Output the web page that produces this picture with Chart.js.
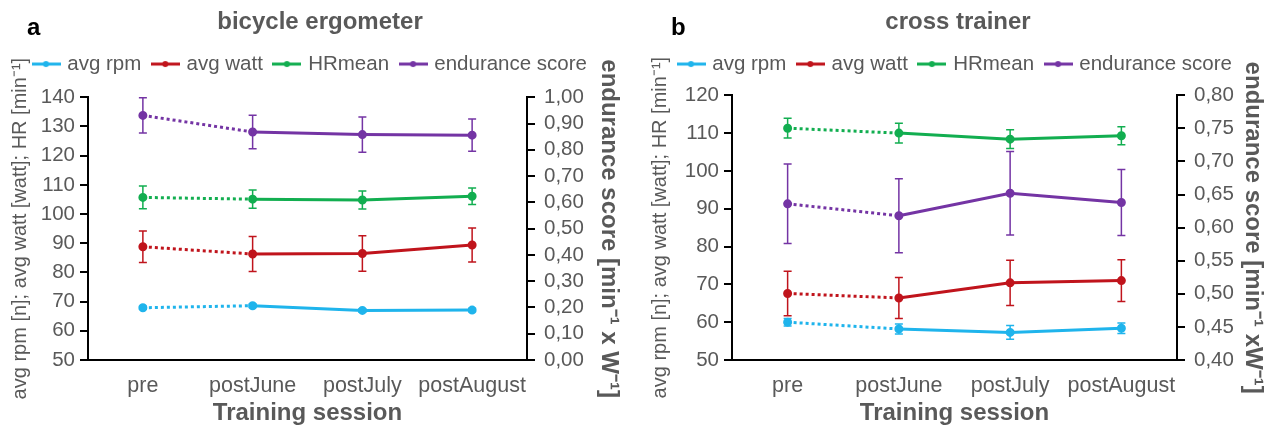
<!DOCTYPE html>
<html>
<head>
<meta charset="utf-8">
<script src="https://cdn.jsdelivr.net/npm/chart.js@4"></script>
<style>
  body { margin: 0; background: #fff; }
  #wrap { position: relative; width: 1276px; height: 431px; }
  .panel { position: absolute; top: 0; height: 431px; }
</style>
</head>
<body>
<div id="wrap">
  <div class="panel" style="left:0;width:640px"><canvas id="chartA"></canvas></div>
  <div class="panel" style="left:640px;width:636px"><canvas id="chartB"></canvas></div>
</div>
<script>
const sessions = ['pre', 'postJune', 'postJuly', 'postAugust'];
const seriesNames = ['avg rpm', 'avg watt', 'HRmean', 'endurance score'];
const seriesColors = ['#1FB4EC', '#C0141C', '#12AE50', '#7434A4'];

// a: bicycle ergometer
const bikeRpm = [67.9, 68.6, 67.0, 67.1];
const bikeRpmSd = [0.5, 0.6, 0.6, 0.6];
const bikeWatt = [88.8, 86.3, 86.5, 89.4];
const bikeWattSd = [5.4, 6.0, 6.1, 5.8];
const bikeHr = [105.7, 105.1, 104.8, 106.1];
const bikeHrSd = [3.9, 3.1, 3.1, 2.8];
const bikeScore = [0.931, 0.868, 0.858, 0.856];
const bikeScoreSd = [0.067, 0.064, 0.067, 0.061];
const bikeLeftTicks = [50, 60, 70, 80, 90, 100, 110, 120, 130, 140];
const bikeRightTicks = [0, 0.1, 0.2, 0.3, 0.4, 0.5, 0.6, 0.7, 0.8, 0.9, 1.0];

// b: cross trainer
const crossRpm = [60.0, 58.2, 57.3, 58.4];
const crossRpmSd = [1.0, 1.3, 1.8, 1.4];
const crossWatt = [67.6, 66.4, 70.4, 71.0];
const crossWattSd = [5.9, 5.4, 6.0, 5.5];
const crossHr = [111.3, 110.0, 108.4, 109.3];
const crossHrSd = [2.6, 2.6, 2.5, 2.4];
const crossScore = [0.636, 0.618, 0.652, 0.638];
const crossScoreSd = [0.060, 0.056, 0.063, 0.050];
const crossLeftTicks = [50, 60, 70, 80, 90, 100, 110, 120];
const crossRightTicks = [0.40, 0.45, 0.50, 0.55, 0.60, 0.65, 0.70, 0.75, 0.80];

const gray = '#595959';
Chart.defaults.font.family = '"Liberation Sans", Arial, sans-serif';

function legendIcon(color) {
    const c = document.createElement('canvas');
    c.width = 29;
    c.height = 8;
    const g = c.getContext('2d');
    g.strokeStyle = color;
    g.lineWidth = 3;
    g.beginPath();
    g.moveTo(0, 4);
    g.lineTo(29, 4);
    g.stroke();
    g.fillStyle = color;
    g.beginPath();
    g.arc(14.5, 4, 3, 0, Math.PI * 2);
    g.fill();
    return c;
}
const icons = seriesColors.map(legendIcon);

// whiskers drawn through the dataset's own y scale
const errorBars = {
    id: 'errorBars',
    afterDatasetsDraw(chart) {
        const ctx = chart.ctx;
        chart.data.datasets.forEach((ds, i) => {
            const meta = chart.getDatasetMeta(i);
            const scale = chart.scales[ds.yAxisID];
            ctx.save();
            ctx.strokeStyle = ds.borderColor;
            ctx.lineWidth = 1.5;
            meta.data.forEach((pt, j) => {
                const top = scale.getPixelForValue(ds.data[j] + ds.errors[j]);
                const bot = scale.getPixelForValue(ds.data[j] - ds.errors[j]);
                ctx.beginPath();
                ctx.moveTo(pt.x, top); ctx.lineTo(pt.x, bot);
                ctx.moveTo(pt.x - 4, top); ctx.lineTo(pt.x + 4, top);
                ctx.moveTo(pt.x - 4, bot); ctx.lineTo(pt.x + 4, bot);
                ctx.stroke();
            });
            ctx.restore();
        });
    }
};

// panel letter + legend nudge
const panelExtras = {
    id: 'panelExtras',
    afterLayout(chart, args, opts) {
        const lg = chart.legend;
        lg.left += opts.legendShift;
        lg.right += opts.legendShift;
        lg.top += opts.legendShiftY;
        lg.bottom += opts.legendShiftY;
    },
    afterDraw(chart, args, opts) {
        const ctx = chart.ctx;
        ctx.save();
        ctx.fillStyle = '#000';
        ctx.font = 'bold 24px "Liberation Sans", Arial, sans-serif';
        ctx.textBaseline = 'middle';
        ctx.fillText(opts.letter, opts.letterX, 28);
        ctx.restore();
    }
};

function line(label, idx, data, errors, axis) {
    return {
        label: label,
        data: data,
        errors: errors,
        yAxisID: axis,
        borderColor: seriesColors[idx],
        backgroundColor: seriesColors[idx],
        borderWidth: 3,
        pointRadius: 3,
        pointHoverRadius: 3,
        segment: {
            borderDash: ctx => ctx.p0DataIndex === 0 ? [3, 3] : undefined
        }
    };
}

function comma(v) {
    return v.toFixed(2).replace('.', ',');
}

function makeChart(id, cfg) {
    return new Chart(document.getElementById(id), {
        type: 'line',
        data: {
            labels: sessions,
            datasets: [
                line(seriesNames[0], 0, cfg.rpm, cfg.rpmSd, 'y'),
                line(seriesNames[1], 1, cfg.watt, cfg.wattSd, 'y'),
                line(seriesNames[2], 2, cfg.hr, cfg.hrSd, 'y'),
                line(seriesNames[3], 3, cfg.score, cfg.scoreSd, 'y1')
            ]
        },
        options: {
            responsive: true,
            maintainAspectRatio: false,
            animation: false,
            layout: { padding: 0 },
            plugins: {
                title: {
                    display: true,
                    text: cfg.title,
                    color: gray,
                    font: { size: 24, weight: 'bold' },
                    padding: { top: 8, bottom: 17 + cfg.areaTopFix }
                },
                legend: {
                    align: 'start',
                    labels: {
                        color: gray,
                        font: { size: 20.5 },
                        usePointStyle: true,
                        pointStyleWidth: 22,
                        padding: 13,
                        generateLabels(chart) {
                            const items = Chart.defaults.plugins.legend.labels.generateLabels(chart);
                            items.forEach(it => { it.pointStyle = icons[it.datasetIndex]; });
                            return items;
                        }
                    }
                },
                tooltip: { enabled: false },
                panelExtras: {
                    letter: cfg.letter, letterX: cfg.letterX,
                    legendShift: cfg.legendShift, legendShiftY: -13 - cfg.areaTopFix
                }
            },
            scales: {
                x: {
                    offset: true,
                    grid: { display: false, drawTicks: false },
                    border: { color: '#000', width: 2 },
                    ticks: { color: gray, font: { size: 21.5 }, padding: 13, autoSkip: false, maxRotation: 0, minRotation: 0 },
                    title: {
                        display: true,
                        text: 'Training session',
                        color: gray,
                        font: { size: 24, weight: 'bold' },
                        padding: { top: 0, bottom: 3 }
                    },
                    afterFit(s) { s.height = 71; }
                },
                y: {
                    position: 'left',
                    min: cfg.leftTicks[0],
                    max: cfg.leftTicks[cfg.leftTicks.length - 1],
                    afterBuildTicks(s) { s.ticks = cfg.leftTicks.map(v => ({ value: v })); },
                    grid: { drawOnChartArea: false, color: '#000', lineWidth: 2, tickLength: 8 },
                    border: { color: '#000', width: 2 },
                    ticks: { color: gray, font: { size: 20.5 }, padding: 5, autoSkip: false },
                    title: {
                        display: true,
                        text: 'avg rpm [n]; avg watt [watt]; HR [min\u207B\u00B9]',
                        color: gray,
                        font: { size: 20 },
                        padding: { top: 8 }
                    },
                    afterFit(s) { s.width = cfg.leftWidth; }
                },
                y1: {
                    position: 'right',
                    min: cfg.rightTicks[0],
                    max: cfg.rightTicks[cfg.rightTicks.length - 1],
                    afterBuildTicks(s) { s.ticks = cfg.rightTicks.map(v => ({ value: v })); },
                    grid: { drawOnChartArea: false, color: '#000', lineWidth: 2, tickLength: 8 },
                    border: { color: '#000', width: 2 },
                    ticks: { color: gray, font: { size: 20.5 }, padding: 9, autoSkip: false, callback: v => comma(v) },
                    title: {
                        display: true,
                        text: cfg.rightTitle,
                        color: gray,
                        font: { size: 24, weight: 'bold' },
                        padding: { top: cfg.rightTitlePad }
                    },
                    afterFit(s) { s.width = cfg.rightWidth; }
                }
            }
        },
        plugins: [errorBars, panelExtras]
    });
}

makeChart('chartA', {
    title: 'bicycle ergometer', letter: 'a', letterX: 27, legendShift: 22, areaTopFix: 0,
    rpm: bikeRpm, rpmSd: bikeRpmSd, watt: bikeWatt, wattSd: bikeWattSd,
    hr: bikeHr, hrSd: bikeHrSd, score: bikeScore, scoreSd: bikeScoreSd,
    leftTicks: bikeLeftTicks, rightTicks: bikeRightTicks,
    leftWidth: 88, rightWidth: 113, rightTitlePad: 17,
    rightTitle: 'endurance score [min\u207B\u00B9 x W\u207B\u00B9]'
});

makeChart('chartB', {
    title: 'cross trainer', letter: 'b', letterX: 31, legendShift: 27, areaTopFix: -2,
    rpm: crossRpm, rpmSd: crossRpmSd, watt: crossWatt, wattSd: crossWattSd,
    hr: crossHr, hrSd: crossHrSd, score: crossScore, scoreSd: crossScoreSd,
    leftTicks: crossLeftTicks, rightTicks: crossRightTicks,
    leftWidth: 92, rightWidth: 99, rightTitlePad: 9,
    rightTitle: 'endurance score [min\u207B\u00B9 xW\u207B\u00B9]'
});
</script>
</body>
</html>
